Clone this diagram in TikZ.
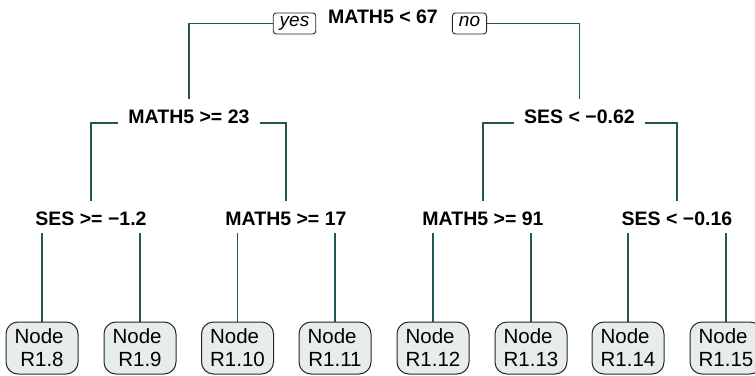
\documentclass[tikz,border=0pt]{standalone}
\usepackage{fontspec}
\setmainfont{Liberation Sans}
\usepackage{xcolor}
\usetikzlibrary{backgrounds}

\definecolor{branchcol}{RGB}{36,86,86}
\definecolor{leaffill}{RGB}{230,237,235}

\tikzset{
  split/.style={font=\fontsize{19.5}{23}\selectfont\bfseries, fill=white,
    inner xsep=10pt, inner ysep=8pt, text height=16pt, text depth=0pt, anchor=base},
  leaf/.style={draw=black!85, fill=leaffill, rounded corners=12pt, line width=1pt,
    align=center, minimum width=72pt, minimum height=52pt, inner sep=0pt,
    font=\fontsize{20.5}{23}\selectfont},
  yesno/.style={draw=black!85, rounded corners=3pt, line width=0.9pt, inner xsep=6.5pt,
    inner ysep=0pt, minimum height=21pt, text height=10pt, text depth=4pt,
    font=\fontsize{19}{22}\selectfont\itshape},
  branch/.style={draw=branchcol, line width=1.2pt}
}

\begin{document}
\begin{tikzpicture}[x=1pt,y=-1pt]
  \useasboundingbox (0,0) rectangle (755,375);

  % splits
  \node[split] (m67) at (383,23) {MATH5 < 67};
  \node[yesno] (yes) at (294.5,23.5) {yes};
  \node[yesno] (no) at (469.5,23.5) {no};
  \node[split] (m23) at (189,123) {MATH5 >= 23};
  \node[split] (s062) at (579.5,123) {SES < −0.62};
  \node[split] (s12) at (91,225) {SES >= −1.2};
  \node[split] (m17) at (286,225) {MATH5 >= 17};
  \node[split] (m91) at (483,225) {MATH5 >= 91};
  \node[split] (s016) at (677,225) {SES < −0.16};

  % leaves
  \node[leaf] (n8) at (42,348) {Node\kern0.28em\\R1.8};
  \node[leaf] (n9) at (140,348) {Node\kern0.28em\\R1.9};
  \node[leaf] (n10) at (237.5,348) {Node\kern0.28em\\R1.10};
  \node[leaf] (n11) at (335,348) {Node\kern0.28em\\R1.11};
  \node[leaf] (n12) at (433,348) {Node\kern0.28em\\R1.12};
  \node[leaf] (n13) at (531,348) {Node\kern0.28em\\R1.13};
  \node[leaf] (n14) at (628,348) {Node\kern0.28em\\R1.14};
  \node[leaf] (n15) at (726,348) {Node\kern0.28em\\R1.15};

  % branches, behind the labels
  \begin{scope}[on background layer]
    \draw[branch] (yes.west) -| (m23.north);
    \draw[branch] (no.east) -| (s062.north);
    \draw[branch] (m23.base west) -| (s12.north);
    \draw[branch] (m23.base east) -| (m17.north);
    \draw[branch] (s062.base west) -| (m91.north);
    \draw[branch] (s062.base east) -| (s016.north);
    \draw[branch] (s12.base) -| (n8.north);
    \draw[branch] (s12.base) -| (n9.north);
    \draw[branch] (m17.base) -| (n10.north);
    \draw[branch] (m17.base) -| (n11.north);
    \draw[branch] (m91.base) -| (n12.north);
    \draw[branch] (m91.base) -| (n13.north);
    \draw[branch] (s016.base) -| (n14.north);
    \draw[branch] (s016.base) -| (n15.north);
  \end{scope}
\end{tikzpicture}
\end{document}
